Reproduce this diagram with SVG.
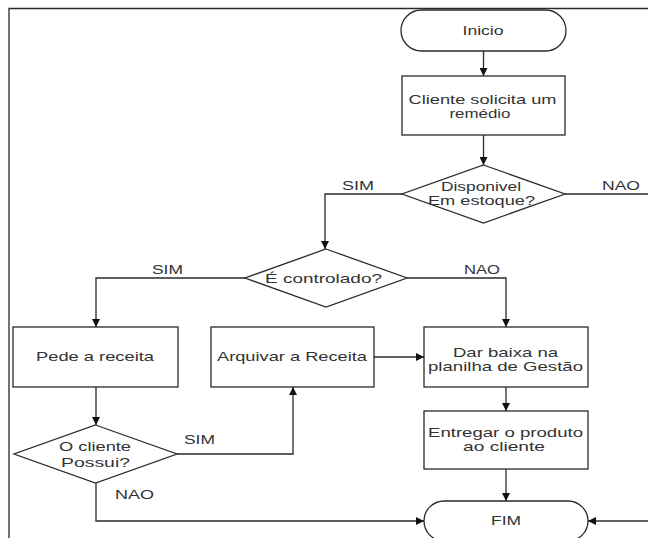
<svg xmlns="http://www.w3.org/2000/svg" width="648" height="538" viewBox="0 0 648 538">
<style>
.shape{fill:#ffffff;stroke:#2a2a2a;stroke-width:1.3}
.edge{fill:none;stroke:#2a2a2a;stroke-width:1.3}
text{font-family:"Liberation Sans",Arial,sans-serif;font-size:13px;fill:#333333;text-anchor:middle}
</style>
<defs>
<marker id="arr" viewBox="0 0 10 10" refX="10" refY="5" markerWidth="8" markerHeight="8" markerUnits="userSpaceOnUse" orient="auto">
<path d="M0,0 L10,5 L0,10 z" fill="#111111"/>
</marker>
</defs>
<rect width="648" height="538" fill="#ffffff"/>
<path d="M9,538 L9,8.5 L648,8.5" fill="none" stroke="#2a2a2a" stroke-width="1.3"/>

<g id="connectors">
<path class="edge" d="M483.5,51 L483.5,76" marker-end="url(#arr)"/>
<path class="edge" d="M483.5,135 L483.5,165" marker-end="url(#arr)"/>
<path class="edge" d="M402,194 L325,194 L325,249" marker-end="url(#arr)"/>
<path class="edge" d="M565,194 L648,194"/>
<path class="edge" d="M245,278 L96,278 L96,327" marker-end="url(#arr)"/>
<path class="edge" d="M407,278 L506,278 L506,327" marker-end="url(#arr)"/>
<path class="edge" d="M96,387 L96,425" marker-end="url(#arr)"/>
<path class="edge" d="M177,454 L293,454 L293,387" marker-end="url(#arr)"/>
<path class="edge" d="M374,357 L424,357" marker-end="url(#arr)"/>
<path class="edge" d="M96,483 L96,521 L424,521" marker-end="url(#arr)"/>
<path class="edge" d="M506,387 L506,411" marker-end="url(#arr)"/>
<path class="edge" d="M506,469 L506,501" marker-end="url(#arr)"/>
<path class="edge" d="M648,521 L588,521" marker-end="url(#arr)"/>
<text x="358" y="190" textLength="32" lengthAdjust="spacingAndGlyphs">SIM</text>
<text x="621" y="190" textLength="38" lengthAdjust="spacingAndGlyphs">NAO</text>
<text x="167.5" y="274" textLength="31" lengthAdjust="spacingAndGlyphs">SIM</text>
<text x="482" y="274" textLength="36" lengthAdjust="spacingAndGlyphs">NAO</text>
<text x="199.5" y="444" textLength="31" lengthAdjust="spacingAndGlyphs">SIM</text>
<text x="134.5" y="499" textLength="39" lengthAdjust="spacingAndGlyphs">NAO</text>
</g>

<g id="inicio">
<rect class="shape" x="401" y="10" width="165" height="41" rx="20.5" ry="20.5"/>
<text x="483" y="35" textLength="41" lengthAdjust="spacingAndGlyphs">Inicio</text>
</g>

<g id="cliente-solicita">
<rect class="shape" x="402" y="76" width="163" height="59"/>
<text x="482.5" y="103.5" textLength="148" lengthAdjust="spacingAndGlyphs">Cliente solicita um</text>
<text x="480" y="117.5" textLength="61" lengthAdjust="spacingAndGlyphs">remédio</text>
</g>

<g id="disponivel">
<polygon class="shape" points="483.5,165 565,194 483.5,223 402,194"/>
<text x="481" y="190.5" textLength="80" lengthAdjust="spacingAndGlyphs">Disponivel</text>
<text x="481.5" y="204.5" textLength="107" lengthAdjust="spacingAndGlyphs">Em estoque?</text>
</g>

<g id="controlado">
<polygon class="shape" points="326,249 407,278 326,307 245,278"/>
<text x="323.5" y="283" textLength="117" lengthAdjust="spacingAndGlyphs">É controlado?</text>
</g>

<g id="pede-receita">
<rect class="shape" x="13" y="327" width="165" height="60"/>
<text x="95" y="361" textLength="118" lengthAdjust="spacingAndGlyphs">Pede a receita</text>
</g>

<g id="arquivar-receita">
<rect class="shape" x="211" y="327" width="163" height="60"/>
<text x="292" y="361" textLength="150" lengthAdjust="spacingAndGlyphs">Arquivar a Receita</text>
</g>

<g id="dar-baixa">
<rect class="shape" x="424" y="327" width="164" height="60"/>
<text x="505.5" y="356.5" textLength="105" lengthAdjust="spacingAndGlyphs">Dar baixa na</text>
<text x="505.5" y="370.5" textLength="155" lengthAdjust="spacingAndGlyphs">planilha de Gestão</text>
</g>

<g id="cliente-possui">
<polygon class="shape" points="95.5,425 177,454 95.5,483 14,454"/>
<text x="95" y="451" textLength="72" lengthAdjust="spacingAndGlyphs">O cliente</text>
<text x="95.5" y="467" textLength="69" lengthAdjust="spacingAndGlyphs">Possui?</text>
</g>

<g id="entregar-produto">
<rect class="shape" x="424" y="411" width="164" height="58"/>
<text x="505.5" y="437" textLength="155" lengthAdjust="spacingAndGlyphs">Entregar o produto</text>
<text x="504" y="451" textLength="82" lengthAdjust="spacingAndGlyphs">ao cliente</text>
</g>

<g id="fim">
<rect class="shape" x="424" y="501" width="164" height="40" rx="20" ry="20"/>
<text x="506" y="525" textLength="30" lengthAdjust="spacingAndGlyphs">FIM</text>
</g>
</svg>
